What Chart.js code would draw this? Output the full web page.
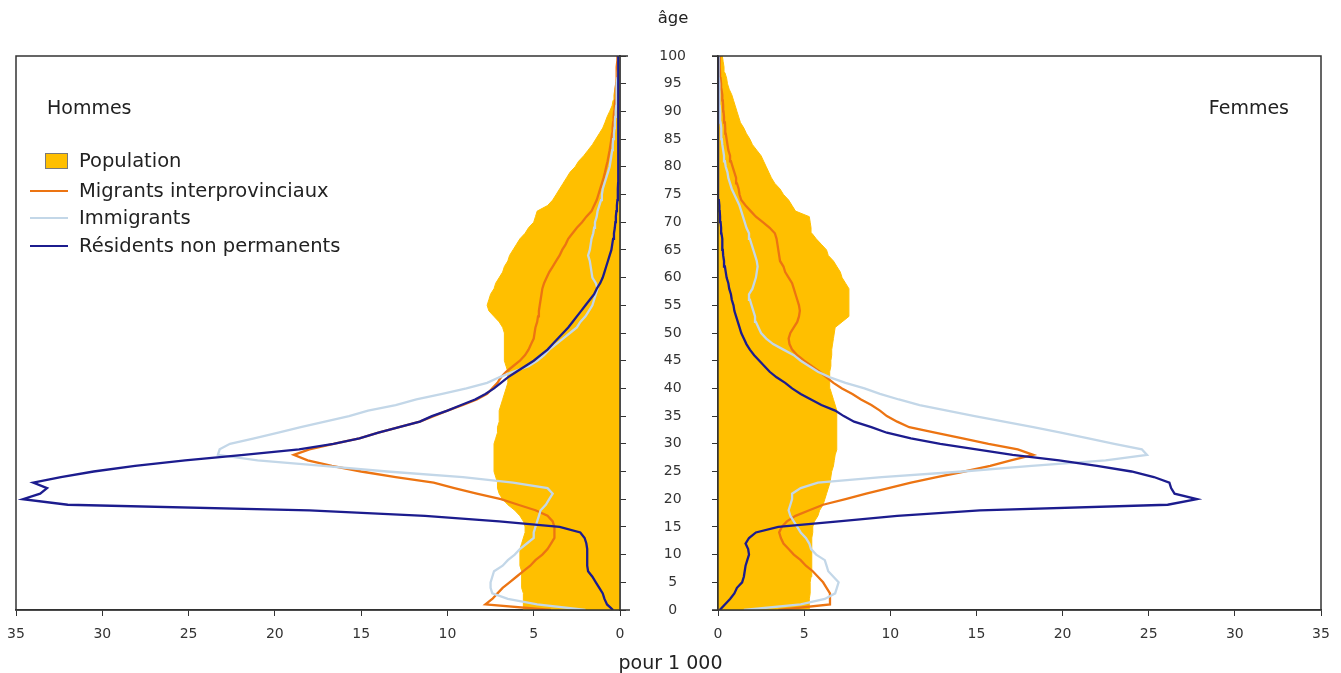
<!DOCTYPE html>
<html lang="fr">
<head>
<meta charset="utf-8">
<script src="https://cdn.jsdelivr.net/npm/chart.js@4.4.1/dist/chart.umd.min.js"></script>
<style>
  html, body { margin:0; padding:0; background:#fff; }
  body { width:1341px; height:673px; position:relative; overflow:hidden; font-family:"DejaVu Sans", Verdana, sans-serif; color:#222; }
  canvas { position:absolute; top:0; }
  #cL { left:0; }
  #cR { left:640px; }
  .lbl { position:absolute; font-size:19px; white-space:nowrap; line-height:22px; }
  #legend { position:absolute; left:30px; top:0; font-size:19.5px; }
  .row { position:absolute; left:0; height:22px; white-space:nowrap; }
  .row .sym { position:absolute; left:0; top:0; width:38px; height:22px; }
  .row .txt { position:absolute; left:49px; top:0; line-height:22px; }
</style>
</head>
<body>
<canvas id="cL" width="660" height="673"></canvas>
<canvas id="cR" width="701" height="673"></canvas>
<div class="lbl" style="left:0;width:1341px;text-align:center;top:7px;padding-left:5px;box-sizing:border-box;font-size:16.5px;">âge</div>
<div class="lbl" style="left:0;width:1341px;text-align:center;top:651px;">pour 1 000</div>
<div class="lbl" style="left:47px;top:96px;">Hommes</div>
<div class="lbl" style="right:52px;top:96px;">Femmes</div>
<div id="legend"></div>
<script>
// ---- Data (per 1 000), ages 0..100 ----
const ages = [0,1,2,3,4,5,6,7,8,9,10,11,12,13,14,15,16,17,18,19,20,21,22,23,24,25,26,27,28,29,30,31,32,33,34,35,36,37,38,39,40,41,42,43,44,45,46,47,48,49,50,51,52,53,54,55,56,57,58,59,60,61,62,63,64,65,66,67,68,69,70,71,72,73,74,75,76,77,78,79,80,81,82,83,84,85,86,87,88,89,90,91,92,93,94,95,96,97,98,99,100];
const xTicks = [0,5,10,15,20,25,30,35];
const ageTicks = [0,5,10,15,20,25,30,35,40,45,50,55,60,65,70,75,80,85,90,95,100];

// Hommes
const menPopulation = [5.6,5.6,5.6,5.6,5.7,5.7,5.7,5.7,5.8,5.8,5.8,5.8,5.7,5.6,5.5,5.5,5.6,5.8,6.1,6.5,6.8,7.0,7.1,7.1,7.2,7.3,7.3,7.3,7.3,7.3,7.3,7.2,7.1,7.1,7.0,7.0,7.0,6.9,6.8,6.7,6.6,6.5,6.5,6.5,6.6,6.7,6.7,6.7,6.7,6.7,6.7,6.8,7.0,7.3,7.6,7.7,7.6,7.5,7.3,7.2,7.0,6.8,6.7,6.5,6.4,6.2,6.0,5.8,5.5,5.3,5.0,4.9,4.8,4.2,3.9,3.7,3.5,3.3,3.1,2.9,2.6,2.4,2.1,1.85,1.6,1.4,1.2,1.0,0.87,0.75,0.6,0.46,0.4,0.35,0.3,0.25,0.2,0.18,0.15,0.12,0.1];
const menInterprovincial = [4.0,7.8,7.4,7.1,6.8,6.4,6.0,5.6,5.2,4.9,4.5,4.2,4.0,3.8,3.8,3.8,3.9,4.2,4.9,5.9,6.9,8.3,9.6,10.8,13.0,15.0,16.7,18.1,18.9,18.0,16.6,15.1,14.0,12.8,11.6,10.8,10.0,9.1,8.3,7.7,7.4,7.1,6.9,6.6,6.2,5.8,5.5,5.3,5.15,5.0,4.95,4.9,4.8,4.75,4.7,4.65,4.6,4.55,4.5,4.4,4.25,4.1,3.9,3.7,3.5,3.35,3.15,3.0,2.75,2.5,2.2,1.95,1.65,1.5,1.35,1.25,1.15,1.05,0.95,0.87,0.8,0.72,0.66,0.6,0.55,0.5,0.46,0.43,0.4,0.37,0.34,0.31,0.28,0.26,0.24,0.22,0.2,0.2,0.18,0.16,0.15];
const menImmigrants = [2.0,4.8,6.5,7.4,7.5,7.5,7.4,7.3,6.8,6.5,6.1,5.8,5.4,5.0,5.0,4.9,4.8,4.7,4.6,4.3,4.1,3.9,4.2,6.2,9.1,13.5,17.2,21.0,23.3,23.2,22.6,21.2,19.8,18.5,17.1,15.7,14.6,13.0,11.8,10.3,8.9,7.7,7.0,6.2,5.3,4.8,4.4,4.1,3.7,3.3,2.9,2.5,2.3,2.0,1.8,1.6,1.5,1.4,1.3,1.4,1.6,1.65,1.7,1.75,1.85,1.75,1.7,1.65,1.55,1.5,1.45,1.35,1.3,1.2,1.1,1.05,1.0,0.9,0.8,0.7,0.6,0.55,0.5,0.45,0.42,0.4,0.35,0.32,0.3,0.28,0.25,0.22,0.2,0.2,0.2,0.18,0.15,0.12,0.1,0.1,0.1];
const menNonPermanent = [0.4,0.75,0.9,1.0,1.2,1.4,1.6,1.85,1.9,1.9,1.9,1.9,1.95,2.05,2.3,3.5,7.0,11.3,18.0,32.0,34.6,33.6,33.2,34.0,32.4,30.5,28.1,25.2,21.8,18.6,16.6,15.1,14.0,12.8,11.6,10.9,10.0,9.2,8.4,7.8,7.3,6.9,6.5,6.0,5.5,5.0,4.6,4.2,3.9,3.6,3.3,3.0,2.75,2.5,2.25,2.0,1.75,1.5,1.35,1.15,1.0,0.9,0.8,0.7,0.6,0.5,0.45,0.4,0.35,0.3,0.27,0.24,0.21,0.18,0.15,0.13,0.12,0.11,0.1,0.1,0.1,0.1,0.1,0.1,0.1,0.1,0.1,0.1,0.1,0.1,0.1,0.1,0.1,0.1,0.1,0.1,0.1,0.1,0.1,0.1,0.1];

// Femmes
const womenPopulation = [5.3,5.3,5.3,5.35,5.35,5.35,5.4,5.4,5.45,5.45,5.45,5.45,5.45,5.45,5.5,5.5,5.6,5.8,5.9,6.1,6.2,6.3,6.4,6.5,6.55,6.6,6.7,6.75,6.8,6.9,6.9,6.9,6.9,6.9,6.9,6.9,6.85,6.8,6.7,6.6,6.5,6.45,6.5,6.5,6.55,6.55,6.6,6.6,6.65,6.7,6.75,6.8,7.2,7.6,7.6,7.6,7.6,7.6,7.6,7.4,7.2,7.1,6.9,6.7,6.4,6.3,6.0,5.7,5.45,5.4,5.35,5.3,4.5,4.3,4.1,3.8,3.6,3.3,3.1,2.95,2.8,2.65,2.5,2.25,2.0,1.85,1.65,1.5,1.3,1.2,1.1,1.0,0.9,0.8,0.65,0.55,0.5,0.4,0.35,0.3,0.25];
const womenInterprovincial = [3.5,6.5,6.5,6.5,6.3,6.1,5.8,5.5,5.1,4.8,4.4,4.1,3.8,3.65,3.55,3.7,4.0,4.5,5.3,6.1,7.4,8.6,9.9,11.2,12.7,14.3,15.8,17.0,18.3,17.4,15.7,14.2,12.6,11.1,10.4,9.8,9.4,8.9,8.3,7.8,7.2,6.7,6.3,5.9,5.45,5.0,4.6,4.3,4.15,4.1,4.2,4.4,4.6,4.7,4.75,4.7,4.6,4.5,4.4,4.3,4.1,3.9,3.8,3.6,3.55,3.5,3.45,3.4,3.3,3.0,2.6,2.2,1.9,1.6,1.35,1.25,1.2,1.1,1.05,0.95,0.85,0.75,0.7,0.6,0.55,0.5,0.45,0.42,0.4,0.35,0.32,0.3,0.28,0.25,0.2,0.18,0.15,0.12,0.1,0.1,0.1];
const womenImmigrants = [1.5,4.8,6.2,6.8,6.9,7.0,6.7,6.4,6.3,6.2,5.7,5.4,5.3,5.1,4.8,4.6,4.4,4.2,4.1,4.2,4.3,4.3,4.8,5.8,9.5,14.2,18.2,22.5,24.9,24.6,23.0,21.5,19.9,18.3,16.6,14.9,13.3,11.7,10.5,9.4,8.5,7.4,6.5,5.8,5.3,4.8,4.4,3.8,3.2,2.8,2.5,2.35,2.2,2.15,2.05,1.95,1.85,1.8,2.0,2.1,2.2,2.25,2.3,2.25,2.15,2.05,1.95,1.85,1.8,1.65,1.55,1.45,1.35,1.25,1.1,0.95,0.8,0.7,0.6,0.55,0.45,0.4,0.35,0.3,0.25,0.22,0.2,0.18,0.15,0.13,0.12,0.1,0.1,0.08,0.07,0.06,0.05,0.05,0.04,0.04,0.03];
const womenNonPermanent = [0.1,0.4,0.7,0.95,1.1,1.4,1.5,1.55,1.6,1.7,1.8,1.75,1.6,1.8,2.2,3.5,7.0,10.4,15.2,26.1,27.8,26.5,26.3,26.2,25.3,24.0,22.0,19.8,17.1,15.0,12.9,11.2,9.8,8.9,7.9,7.3,6.8,6.0,5.4,4.8,4.3,3.9,3.4,3.0,2.7,2.4,2.1,1.85,1.65,1.5,1.35,1.25,1.15,1.05,0.95,0.9,0.8,0.75,0.65,0.6,0.5,0.45,0.4,0.35,0.3,0.28,0.25,0.25,0.2,0.18,0.15,0.12,0.1,0.08,0.05,0.03,0.02,0,0,0,0,0,0,0,0,0,0,0,0,0,0,0,0,0,0,0,0,0,0,0,0];

const seriesLabels = ['Population','Migrants interprovinciaux','Immigrants','Résidents non permanents'];
const seriesColors = ['#FFBF00','#EC7412','#C3D7E8','#1C1C8E'];

// ---- Build charts ----
Chart.defaults.font.family = '"DejaVu Sans", Verdana, sans-serif';
Chart.defaults.font.size = 14;
Chart.defaults.color = '#333';
Chart.defaults.animation = false;

function pts(vals){ return ages.map((a,i)=>({x: vals[i], y: a})); }

function datasets(pop, mig, imm, npr){
  return [
    {label: seriesLabels[3], data: pts(npr), borderColor: seriesColors[3], borderWidth: 2.3, pointRadius: 0, fill: false, order: 1},
    {label: seriesLabels[2], data: pts(imm), borderColor: seriesColors[2], borderWidth: 2.3, pointRadius: 0, fill: false, order: 2},
    {label: seriesLabels[1], data: pts(mig), borderColor: seriesColors[1], borderWidth: 2.3, pointRadius: 0, fill: false, order: 3},
    {label: seriesLabels[0], data: pts(pop), borderColor: seriesColors[0], backgroundColor: seriesColors[0], borderWidth: 1, pointRadius: 0, fill: 'origin', order: 4}
  ];
}

function framePlugin(isLeft){
  return {
    id: 'frame',
    afterDraw(chart){
      const {ctx, chartArea: a} = chart;
      ctx.save();
      ctx.strokeStyle = '#333';
      ctx.lineWidth = 1.5;
      ctx.strokeRect(a.left, a.top, a.right - a.left, a.bottom - a.top);
      // short extensions of the frame lines toward the central age axis
      ctx.beginPath();
      if (isLeft) {
        ctx.moveTo(a.right, a.top); ctx.lineTo(a.right + 8, a.top);
        ctx.moveTo(a.right, a.bottom); ctx.lineTo(a.right + 10, a.bottom);
      } else {
        ctx.moveTo(a.left, a.top); ctx.lineTo(a.left - 6, a.top);
        ctx.moveTo(a.left, a.bottom); ctx.lineTo(a.left - 6, a.bottom);
      }
      ctx.stroke();
      ctx.restore();
    }
  };
}

function xAxis(reverse){
  return {
    type: 'linear', min: 0, max: 35, reverse: reverse,
    afterBuildTicks(s){ s.ticks = xTicks.map(v => ({value: v})); },
    ticks: {padding: 10, color: '#333', font: {size: 14}},
    grid: {drawOnChartArea: false, drawTicks: true, tickLength: 6, color: '#333', lineWidth: 1},
    border: {display: true, color: '#333', width: 1.5},
    afterFit(s){ s.height = 63; }
  };
}

function yAxis(position, showLabels, width){
  return {
    type: 'linear', min: 0, max: 100, position: position,
    afterBuildTicks(s){ s.ticks = ageTicks.map(v => ({value: v})); },
    ticks: {display: showLabels, crossAlign: 'center', padding: 26, color: '#333', font: {size: 14}},
    grid: {drawOnChartArea: false, drawTicks: true, tickLength: 6, color: '#333', lineWidth: 1},
    border: {display: true, color: '#333', width: 1.5},
    afterFit(s){ s.width = width; }
  };
}

function makeChart(id, pop, mig, imm, npr, left){
  return new Chart(document.getElementById(id), {
    type: 'line',
    data: {datasets: datasets(pop, mig, imm, npr)},
    options: {
      responsive: false,
      devicePixelRatio: 1,
      indexAxis: 'y',
      layout: {padding: left ? {left: 16, top: 56, right: 0, bottom: 0} : {left: 0, top: 56, right: 20, bottom: 0}},
      elements: {line: {tension: 0}},
      plugins: {legend: {display: false}, tooltip: {enabled: false}},
      scales: {
        x: xAxis(left),
        y: left ? yAxis('right', false, 40) : yAxis('left', true, 78)
      }
    },
    plugins: [framePlugin(left)]
  });
}

makeChart('cL', menPopulation, menInterprovincial, menImmigrants, menNonPermanent, true);
makeChart('cR', womenPopulation, womenInterprovincial, womenImmigrants, womenNonPermanent, false);

// ---- Legend (HTML, from series definitions) ----
const lg = document.getElementById('legend');
const rowCenters = [161, 191, 218, 246];
seriesLabels.forEach((lab, i) => {
  const row = document.createElement('div');
  row.className = 'row';
  row.style.top = (rowCenters[i] - 11) + 'px';
  const sym = document.createElement('div');
  sym.className = 'sym';
  const mark = document.createElement('div');
  mark.style.position = 'absolute';
  if (i === 0) {
    mark.style.left = '15px'; mark.style.top = '3px';
    mark.style.width = '21px'; mark.style.height = '14px';
    mark.style.background = seriesColors[0];
    mark.style.border = '1px solid #7a7a7a';
  } else {
    mark.style.left = '0px'; mark.style.top = '10px';
    mark.style.width = '38px'; mark.style.height = '2px';
    mark.style.background = seriesColors[i];
  }
  sym.appendChild(mark);
  const txt = document.createElement('div');
  txt.className = 'txt';
  txt.textContent = lab;
  row.appendChild(sym);
  row.appendChild(txt);
  lg.appendChild(row);
});
</script>
</body>
</html>
